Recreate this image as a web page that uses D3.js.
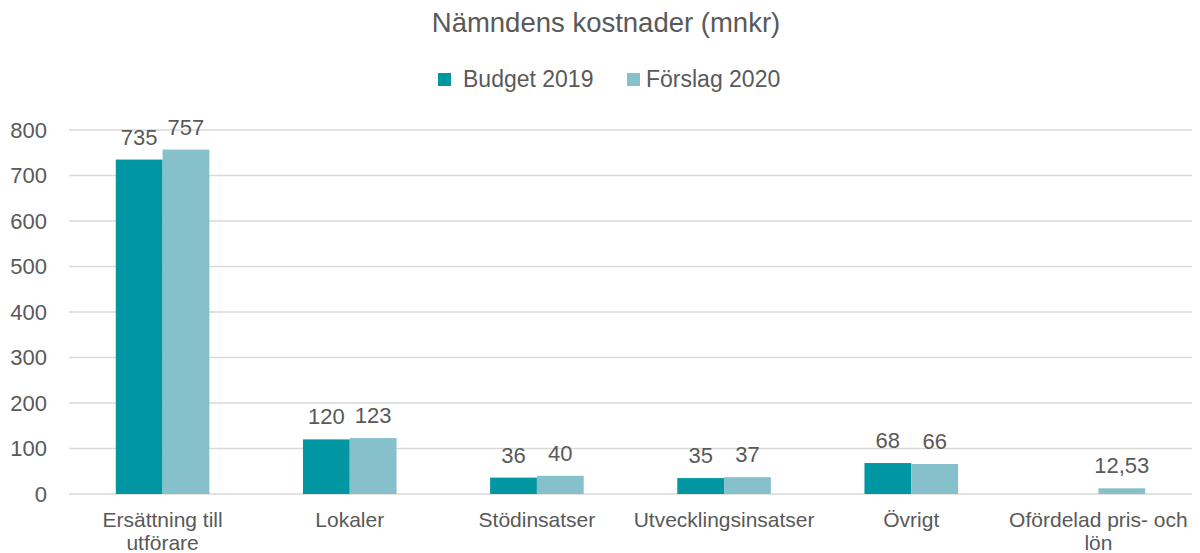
<!DOCTYPE html>
<html>
<head>
<meta charset="utf-8">
<script src="https://cdn.jsdelivr.net/npm/d3@7"></script>
<style>
  body { margin: 0; background: #fff; }
  svg text { font-family: "Liberation Sans", Arial, sans-serif; fill: #595959; }
</style>
</head>
<body>
<div id="chart"></div>
<script>
// data
var categories = [["Ersättning till", "utförare"], ["Lokaler"], ["Stödinsatser"], ["Utvecklingsinsatser"], ["Övrigt"], ["Ofördelad pris- och", "lön"]];
var seriesNames = ["Budget 2019", "Förslag 2020"];
var budget2019 = [735, 120, 36, 35, 68, null];
var forslag2020 = [757, 123, 40, 37, 66, 12.53];
var yTicks = [0, 100, 200, 300, 400, 500, 600, 700, 800];
var colors = ["#0096A2", "#86C1CB"];

var W = 1200, H = 553;
var margin = { top: 130, right: 8, bottom: 59, left: 69 },
    width = W - margin.left - margin.right,
    height = H - margin.top - margin.bottom;

var svg = d3.select("#chart").append("svg")
    .attr("width", W)
    .attr("height", H);

svg.append("text")
    .attr("x", 606)
    .attr("y", 32)
    .attr("text-anchor", "middle")
    .style("font-size", "27.5px")
    .text("Nämndens kostnader (mnkr)");

// legend
var legend = svg.append("g");
var legendX = [438, 627];
seriesNames.forEach(function(name, i) {
    legend.append("rect")
        .attr("x", legendX[i]).attr("y", 73)
        .attr("width", 13).attr("height", 13)
        .attr("fill", colors[i]);
    legend.append("text")
        .attr("x", legendX[i] + (i == 0 ? 25 : 19)).attr("y", 87)
        .style("font-size", "23px")
        .text(name);
});

var g = svg.append("g")
    .attr("transform", "translate(" + margin.left + "," + margin.top + ")");

var x0 = d3.scaleBand()
    .domain(d3.range(categories.length))
    .range([0, width])
    .paddingInner(0.5)
    .paddingOuter(0.25);
var x1 = d3.scaleBand()
    .domain([0, 1])
    .range([0, x0.bandwidth()]);
var y = d3.scaleLinear()
    .domain([0, 800])
    .range([height, 0]);

// gridlines
g.selectAll("line.grid").data(yTicks).enter().append("line")
    .attr("class", "grid")
    .attr("x1", 0).attr("x2", width)
    .attr("y1", function(d) { return y(d); })
    .attr("y2", function(d) { return y(d); })
    .attr("stroke", "#d9d9d9")
    .attr("stroke-width", 1.5);

// y axis labels
var yAxis = d3.axisLeft(y).tickValues(yTicks).tickSize(0).tickPadding(22);
var ya = g.append("g").call(yAxis);
ya.select(".domain").remove();
ya.selectAll("text").style("font-size", "22px").attr("fill", "#595959")
    .attr("font-family", null);

var series = [budget2019, forslag2020];
series.forEach(function(vals, si) {
    var data = vals.map(function(v, i) { return { i: i, v: v }; })
        .filter(function(d) { return d.v != null; });
    g.selectAll("rect.s" + si).data(data).enter().append("rect")
        .attr("class", "s" + si)
        .attr("x", function(d) { return x0(d.i) + x1(si); })
        .attr("width", x1.bandwidth())
        .attr("y", function(d) { return y(d.v); })
        .attr("height", function(d) { return y(0) - y(d.v); })
        .attr("fill", colors[si]);
    g.selectAll("text.l" + si).data(data).enter().append("text")
        .attr("class", "l" + si)
        .attr("x", function(d) { return x0(d.i) + x1(si) + x1.bandwidth() / 2; })
        .attr("y", function(d) { return y(d.v) - 15; })
        .attr("text-anchor", "middle")
        .style("font-size", "22px")
        .text(function(d) { return String(d.v).replace(".", ","); });
});

// category labels
var cat = g.selectAll("text.cat").data(categories).enter().append("text")
    .attr("class", "cat")
    .attr("text-anchor", "middle")
    .attr("transform", function(d, i) { return "translate(" + (x0(i) + x0.bandwidth() / 2) + "," + (height + 33) + ")"; })
    .style("font-size", "21px");
cat.selectAll("tspan").data(function(d) { return d; }).enter().append("tspan")
    .attr("x", 0)
    .attr("dy", function(d, j) { return j === 0 ? 0 : 23; })
    .text(function(d) { return d; });
</script>
</body>
</html>
